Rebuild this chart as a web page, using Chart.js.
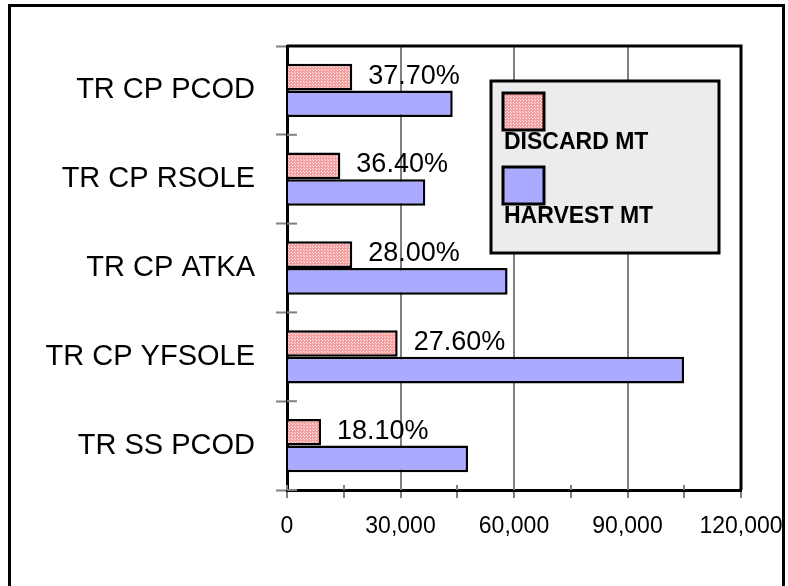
<!DOCTYPE html>
<html>
<head>
<meta charset="utf-8">
<script src="https://cdn.jsdelivr.net/npm/chart.js@4.4.1/dist/chart.umd.min.js"></script>
<style>
  html, body { margin: 0; padding: 0; background: #fff; }
  #wrap { position: relative; width: 788px; height: 586px; }
</style>
</head>
<body>
<div id="wrap"><canvas id="c" width="788" height="586"></canvas></div>
<script>
// ── Data ──────────────────────────────────────────────────
const categories   = ['TR CP PCOD', 'TR CP RSOLE', 'TR CP ATKA', 'TR CP YFSOLE', 'TR SS PCOD'];
const discardMt    = [17250, 14100, 17250, 29250, 9000];
const harvestMt    = [43800, 36550, 58300, 104950, 47850];
const discardPct   = ['37.70%', '36.40%', '28.00%', '27.60%', '18.10%'];
const seriesNames  = ['DISCARD MT', 'HARVEST MT'];
const xMax         = 120000;
const xStep        = 15000;
const xLabelStep   = 30000;

const FONT = 'Arial, "Liberation Sans", sans-serif';

// pink checkered fill like the original
function pinkPattern() {
  const p = document.createElement('canvas');
  p.width = 3; p.height = 3;
  const g = p.getContext('2d');
  g.fillStyle = '#f4a0a0';
  g.fillRect(0, 0, 3, 3);
  g.fillStyle = '#ffe4e4';
  g.fillRect(1, 1, 1, 1);
  g.fillRect(0, 0, 1, 1);
  return g.createPattern(p, 'repeat');
}
const discardFill = pinkPattern();
const harvestFill = '#aaaaff';

// ── Plugins ───────────────────────────────────────────────
const outerFrame = {
  id: 'outerFrame',
  beforeDraw(chart) {
    const ctx = chart.ctx;
    ctx.save();
    ctx.strokeStyle = '#000';
    ctx.lineWidth = 3;
    ctx.strokeRect(9.5, 5.5, 774, 600);
    ctx.restore();
  }
};

const plotFrame = {
  id: 'plotFrame',
  afterDatasetsDraw(chart) {
    const { ctx, chartArea: a, scales } = chart;
    ctx.save();
    // crossing tick marks on x axis (inner part)
    ctx.strokeStyle = '#808080';
    ctx.lineWidth = 2;
    for (let v = 0; v <= xMax; v += xStep) {
      const x = Math.round(scales.x.getPixelForValue(v));
      ctx.beginPath();
      ctx.moveTo(x, a.bottom - 5);
      ctx.lineTo(x, a.bottom);
      ctx.stroke();
    }
    // y ticks crossing inside
    const n = categories.length;
    for (let i = 0; i <= n; i++) {
      const y = a.top + (a.bottom - a.top) * i / n;
      ctx.beginPath();
      ctx.moveTo(a.left, y);
      ctx.lineTo(a.left + 10, y);
      ctx.stroke();
    }
    ctx.strokeStyle = '#000';
    ctx.lineWidth = 3;
    ctx.beginPath();
    ctx.moveTo(a.left, a.top);
    ctx.lineTo(a.right, a.top);
    ctx.lineTo(a.right, a.bottom);
    ctx.stroke();
    ctx.restore();
  }
};

const pctLabels = {
  id: 'pctLabels',
  afterDatasetsDraw(chart) {
    const ctx = chart.ctx;
    const meta = chart.getDatasetMeta(0);
    ctx.save();
    ctx.font = '27px ' + FONT;
    ctx.fillStyle = '#000';
    ctx.textAlign = 'left';
    ctx.textBaseline = 'middle';
    meta.data.forEach((bar, i) => {
      ctx.fillText(discardPct[i], bar.x + 16, bar.y - 1);
    });
    ctx.restore();
  }
};

const boxLegend = {
  id: 'boxLegend',
  afterDraw(chart) {
    const ctx = chart.ctx;
    const ds = chart.data.datasets;
    ctx.save();
    ctx.fillStyle = '#ececec';
    ctx.fillRect(491, 81, 228, 172);
    ctx.strokeStyle = '#000';
    ctx.lineWidth = 3;
    ctx.strokeRect(491, 81, 228, 172);
    const rows = [93, 167];
    ds.forEach((d, i) => {
      const y = rows[i];
      ctx.fillStyle = d.backgroundColor;
      ctx.fillRect(503, y, 41, 37);
      ctx.lineWidth = 3;
      ctx.strokeRect(503, y, 41, 37);
      ctx.fillStyle = '#000';
      ctx.font = 'bold 23px ' + FONT;
      ctx.textAlign = 'left';
      ctx.textBaseline = 'alphabetic';
      ctx.fillText(d.label, 504, y + 56);
    });
    ctx.restore();
  }
};

// ── Chart ─────────────────────────────────────────────────
new Chart(document.getElementById('c'), {
  type: 'bar',
  data: {
    labels: categories,
    datasets: [
      {
        label: seriesNames[0],
        data: discardMt,
        backgroundColor: discardFill,
        borderColor: '#000',
        borderWidth: 2.5,
      },
      {
        label: seriesNames[1],
        data: harvestMt,
        backgroundColor: harvestFill,
        borderColor: '#000',
        borderWidth: 2.5,
      }
    ]
  },
  options: {
    indexAxis: 'y',
    responsive: false,
    animation: false,
    devicePixelRatio: 1,
    layout: { padding: { top: 46, right: 47, left: 0, bottom: 0 } },
    datasets: { bar: { categoryPercentage: 0.6, barPercentage: 1.0 } },
    plugins: {
      legend: { display: false },
      tooltip: { enabled: false },
    },
    scales: {
      x: {
        min: 0,
        max: xMax,
        ticks: {
          stepSize: xStep,
          autoSkip: false,
          maxRotation: 0,
          padding: 15,
          color: '#000',
          font: { family: FONT, size: 23 },
          callback: v => v % xLabelStep === 0 ? v.toLocaleString('en-US') : '',
        },
        grid: {
          color: ctx => {
            const v = ctx.tick && ctx.tick.value;
            return (v % xLabelStep === 0 && v > 0 && v < xMax) ? '#808080' : 'rgba(0,0,0,0)';
          },
          lineWidth: 2,
          tickColor: '#808080',
          tickLength: 8,
          tickWidth: 2,
        },
        border: { color: '#000', width: 3 },
        afterFit: s => { s.height = 96; s.paddingLeft = 0; s.paddingRight = 0; },
      },
      y: {
        offset: true,
        ticks: {
          padding: 21,
          color: '#000',
          font: { family: FONT, size: 29 },
        },
        grid: {
          offset: true,
          drawOnChartArea: false,
          tickColor: '#808080',
          tickLength: 11,
          tickWidth: 2,
        },
        border: { color: '#000', width: 3 },
        afterFit: s => { s.width = 287; s.paddingTop = 0; s.paddingBottom = 0; },
      }
    }
  },
  plugins: [outerFrame, plotFrame, pctLabels, boxLegend]
});
</script>
</body>
</html>
